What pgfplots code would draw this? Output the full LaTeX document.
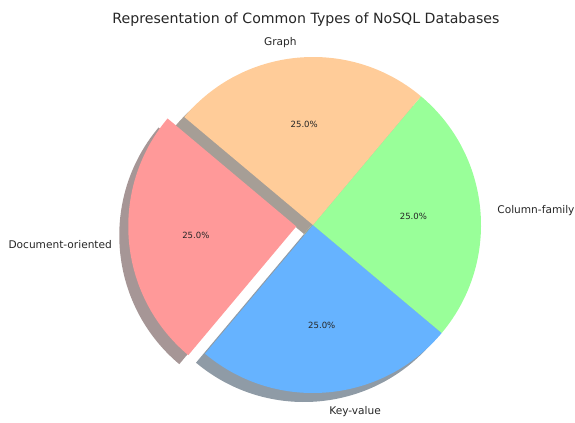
\documentclass[border=0pt]{standalone}
\usepackage{pgfplots}
\usepackage{pgfplotstable}
\pgfplotsset{compat=1.18}
\usepackage{fontspec}
\setmainfont{DejaVu Sans}

\definecolor{cA}{HTML}{FF9999}
\definecolor{cB}{HTML}{66B3FF}
\definecolor{cC}{HTML}{99FF99}
\definecolor{cD}{HTML}{FFCC99}
\definecolor{sA}{RGB}{166,150,150}
\definecolor{sB}{RGB}{143,155,166}
\definecolor{sC}{RGB}{150,166,150}
\definecolor{sD}{RGB}{166,158,150}
\definecolor{txt}{RGB}{38,38,38}

\pgfplotstableread{
label value
Document-oriented 25
Key-value 25
Column-family 25
Graph 25
}\datatable

\pgfplotstablegetelem{0}{value}\of\datatable \edef\vA{\pgfplotsretval}
\pgfplotstablegetelem{1}{value}\of\datatable \edef\vB{\pgfplotsretval}
\pgfplotstablegetelem{2}{value}\of\datatable \edef\vC{\pgfplotsretval}
\pgfplotstablegetelem{3}{value}\of\datatable \edef\vD{\pgfplotsretval}
\pgfplotstablegetelem{0}{label}\of\datatable \edef\lA{\pgfplotsretval}
\pgfplotstablegetelem{1}{label}\of\datatable \edef\lB{\pgfplotsretval}
\pgfplotstablegetelem{2}{label}\of\datatable \edef\lC{\pgfplotsretval}
\pgfplotstablegetelem{3}{label}\of\datatable \edef\lD{\pgfplotsretval}

\pgfmathsetmacro\tot{\vA+\vB+\vC+\vD}
\pgfmathsetmacro\aA{140}
\pgfmathsetmacro\aB{\aA+360*\vA/\tot}
\pgfmathsetmacro\aC{\aB+360*\vB/\tot}
\pgfmathsetmacro\aD{\aC+360*\vC/\tot}
\pgfmathsetmacro\aE{\aD+360*\vD/\tot}
\pgfmathsetmacro\mA{(\aA+\aB)/2}
\pgfmathsetmacro\mB{(\aB+\aC)/2}
\pgfmathsetmacro\mC{(\aC+\aD)/2}
\pgfmathsetmacro\mD{(\aD+\aE)/2}
\pgfmathsetmacro\pA{100*\vA/\tot}
\pgfmathsetmacro\pB{100*\vB/\tot}
\pgfmathsetmacro\pC{100*\vC/\tot}
\pgfmathsetmacro\pD{100*\vD/\tot}
% radius 168px, 1px = 0.75pt
\def\R{126pt}
\pgfmathsetmacro\exA{12.6}
\pgfmathsetmacro\exAx{\exA*cos(\mA)}
\pgfmathsetmacro\exAy{\exA*sin(\mA)}
\def\sh{-6.75}
\pgfmathsetmacro\shAx{\exAx+\sh}
\pgfmathsetmacro\shAy{\exAy+\sh}

% #1 dx, #2 dy (pt), #3 start, #4 end, #5 style
\newcommand\pieWedge[5]{%
  \edef\doit{\noexpand\fill[#5] ([shift={(#1pt,#2pt)}]axis cs:0,0) -- ++(#3:\R)
     arc[start angle=#3,end angle=#4,radius=\R] -- cycle;}\doit}
% #1 dx #2 dy #3 angle #4 label #5 pct
\newcommand\pieLabels[5]{%
  \pgfmathsetmacro\lx{#1+1.1*126*cos(#3)}%
  \pgfmathsetmacro\ly{#2+1.1*126*sin(#3)-1.5}%
  \pgfmathsetmacro\px{#1+0.6*126*cos(#3)}%
  \pgfmathsetmacro\py{#2+0.6*126*sin(#3)}%
  \pgfmathsetmacro\cs{cos(#3)}%
  \ifdim\cs pt<0pt\def\anc{east}\else\def\anc{west}\fi
  \pgfkeys{/pgf/number format/.cd,fixed,precision=1,fixed zerofill,assume math mode=true}%
  \pgfmathprintnumberto{#5}{\pctstr}%
  \edef\doit{\noexpand\node[anchor=\anc,\unexpanded{inner sep=0pt,font=\fontsize{7.95}{9}\selectfont,text=txt}]
     at ([shift={(\lx pt,\ly pt)}]axis cs:0,0) {#4};
  \noexpand\node[\unexpanded{anchor=center,inner sep=0pt,font=\fontsize{6.4}{8}\selectfont,text=txt}]
     at ([shift={(\px pt,\py pt)}]axis cs:0,0)
     {\expandafter\unexpanded\expandafter{\pctstr}\noexpand\%};}%
  \doit
}

\begin{document}
\begin{tikzpicture}
\begin{axis}[
  x=0.75pt, y=0.75pt,
  xmin=-313, xmax=262, ymin=-187, ymax=225,
  hide axis, clip=false,
]
\path (axis cs:-313,-187) rectangle (axis cs:262,225);
% shadows
\pieWedge{\shAx}{\shAy}{\aA}{\aB}{sA}
\pieWedge{\sh}{\sh}{\aB}{\aC}{sB}
\pieWedge{\sh}{\sh}{\aC}{\aD}{sC}
\pieWedge{\sh}{\sh}{\aD}{\aE}{sD}
% wedges
\pieWedge{\exAx}{\exAy}{\aA}{\aB}{cA}
\pieWedge{0}{0}{\aB}{\aC}{cB}
\pieWedge{0}{0}{\aC}{\aD}{cC}
\pieWedge{0}{0}{\aD}{\aE}{cD}
% labels
\pieLabels{\exAx}{\exAy}{\mA}{\lA}{\pA}
\pieLabels{0}{0}{\mB}{\lB}{\pB}
\pieLabels{0}{0}{\mC}{\lC}{\pC}
\pieLabels{0}{0}{\mD}{\lD}{\pD}
\node[anchor=center,inner sep=0pt,font=\fontsize{10.6}{12}\selectfont,text=txt]
  at (axis cs:-7,205) {Representation of Common Types of NoSQL Databases};
\end{axis}
\end{tikzpicture}
\end{document}
